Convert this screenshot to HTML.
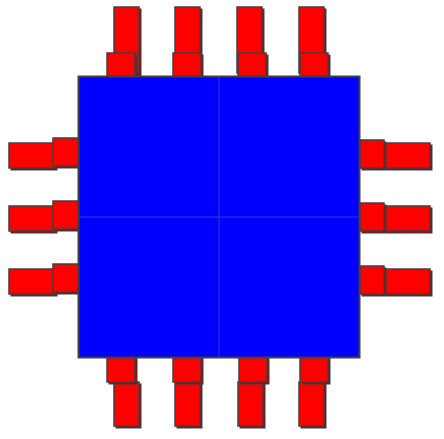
<!DOCTYPE html>
<html><head><meta charset="utf-8"><style>html,body{margin:0;padding:0;background:#fff}svg{display:block}</style></head>
<body>
<svg id="chip" width="444" height="439" viewBox="0 0 444 439" xmlns="http://www.w3.org/2000/svg">
<g id="pins"></g>
<rect x="78.5" y="76.5" width="281" height="281" fill="#0000ff" stroke="#404040" stroke-width="2"/>
<line x1="219" y1="77" x2="219" y2="357" stroke="#3a3ad0" stroke-width="1"/>
<line x1="79" y1="217" x2="359" y2="217" stroke="#3a3ad0" stroke-width="1"/>
</svg>
<script>
const topPins = [127, 188, 250, 312];
const bottomPins = [127, 188, 251, 312];
const leftPins = [154, 217, 280];
const rightPins = [154, 217, 280];
const NS = 'http://www.w3.org/2000/svg';
const g = document.getElementById('pins');
function r(x, y, w, h, name) {
  const sh = document.createElementNS(NS, 'rect');
  sh.setAttribute('x', x + 2); sh.setAttribute('y', y + 2);
  sh.setAttribute('width', w); sh.setAttribute('height', h);
  sh.setAttribute('fill', '#a00000'); sh.setAttribute('stroke', '#404040');
  
  
  g.appendChild(sh);
  const el = document.createElementNS(NS, 'rect');
  el.setAttribute('x', x); el.setAttribute('y', y);
  el.setAttribute('width', w); el.setAttribute('height', h);
  el.setAttribute('fill', '#ff0000'); el.setAttribute('stroke', '#404040'); el.setAttribute('stroke-width', '1.5');
  
  
  g.appendChild(el);
}
topPins.forEach((c, i) => {
  r(c - 13, 7, 25, 66, 'top-pin-' + (i + 1));
  const off = c < 219 ? (i === 0 ? -20 : -15) : -12;
  r(c + off, 53, 28, 23, 'top-pin-foot-' + (i + 1));
});
bottomPins.forEach((c, i) => {
  r(c - 13, 382, 25, 44, 'bottom-pin-' + (i + 1));
  const off = c < 219 ? (i === 0 ? -20 : -15) : -12;
  r(c + off, 357, 28, 25, 'bottom-pin-foot-' + (i + 1));
});
leftPins.forEach((c, i) => {
  r(9, c - 11, 46, 25, 'left-pin-' + (i + 1));
  r(53, c - 16, 25, 28, 'left-pin-foot-' + (i + 1));
});
rightPins.forEach((c, i) => {
  r(385, c - 11, 45, 25, 'right-pin-' + (i + 1));
  r(360, c - 14, 24, 28, 'right-pin-foot-' + (i + 1));
});
</script>
</body></html>
